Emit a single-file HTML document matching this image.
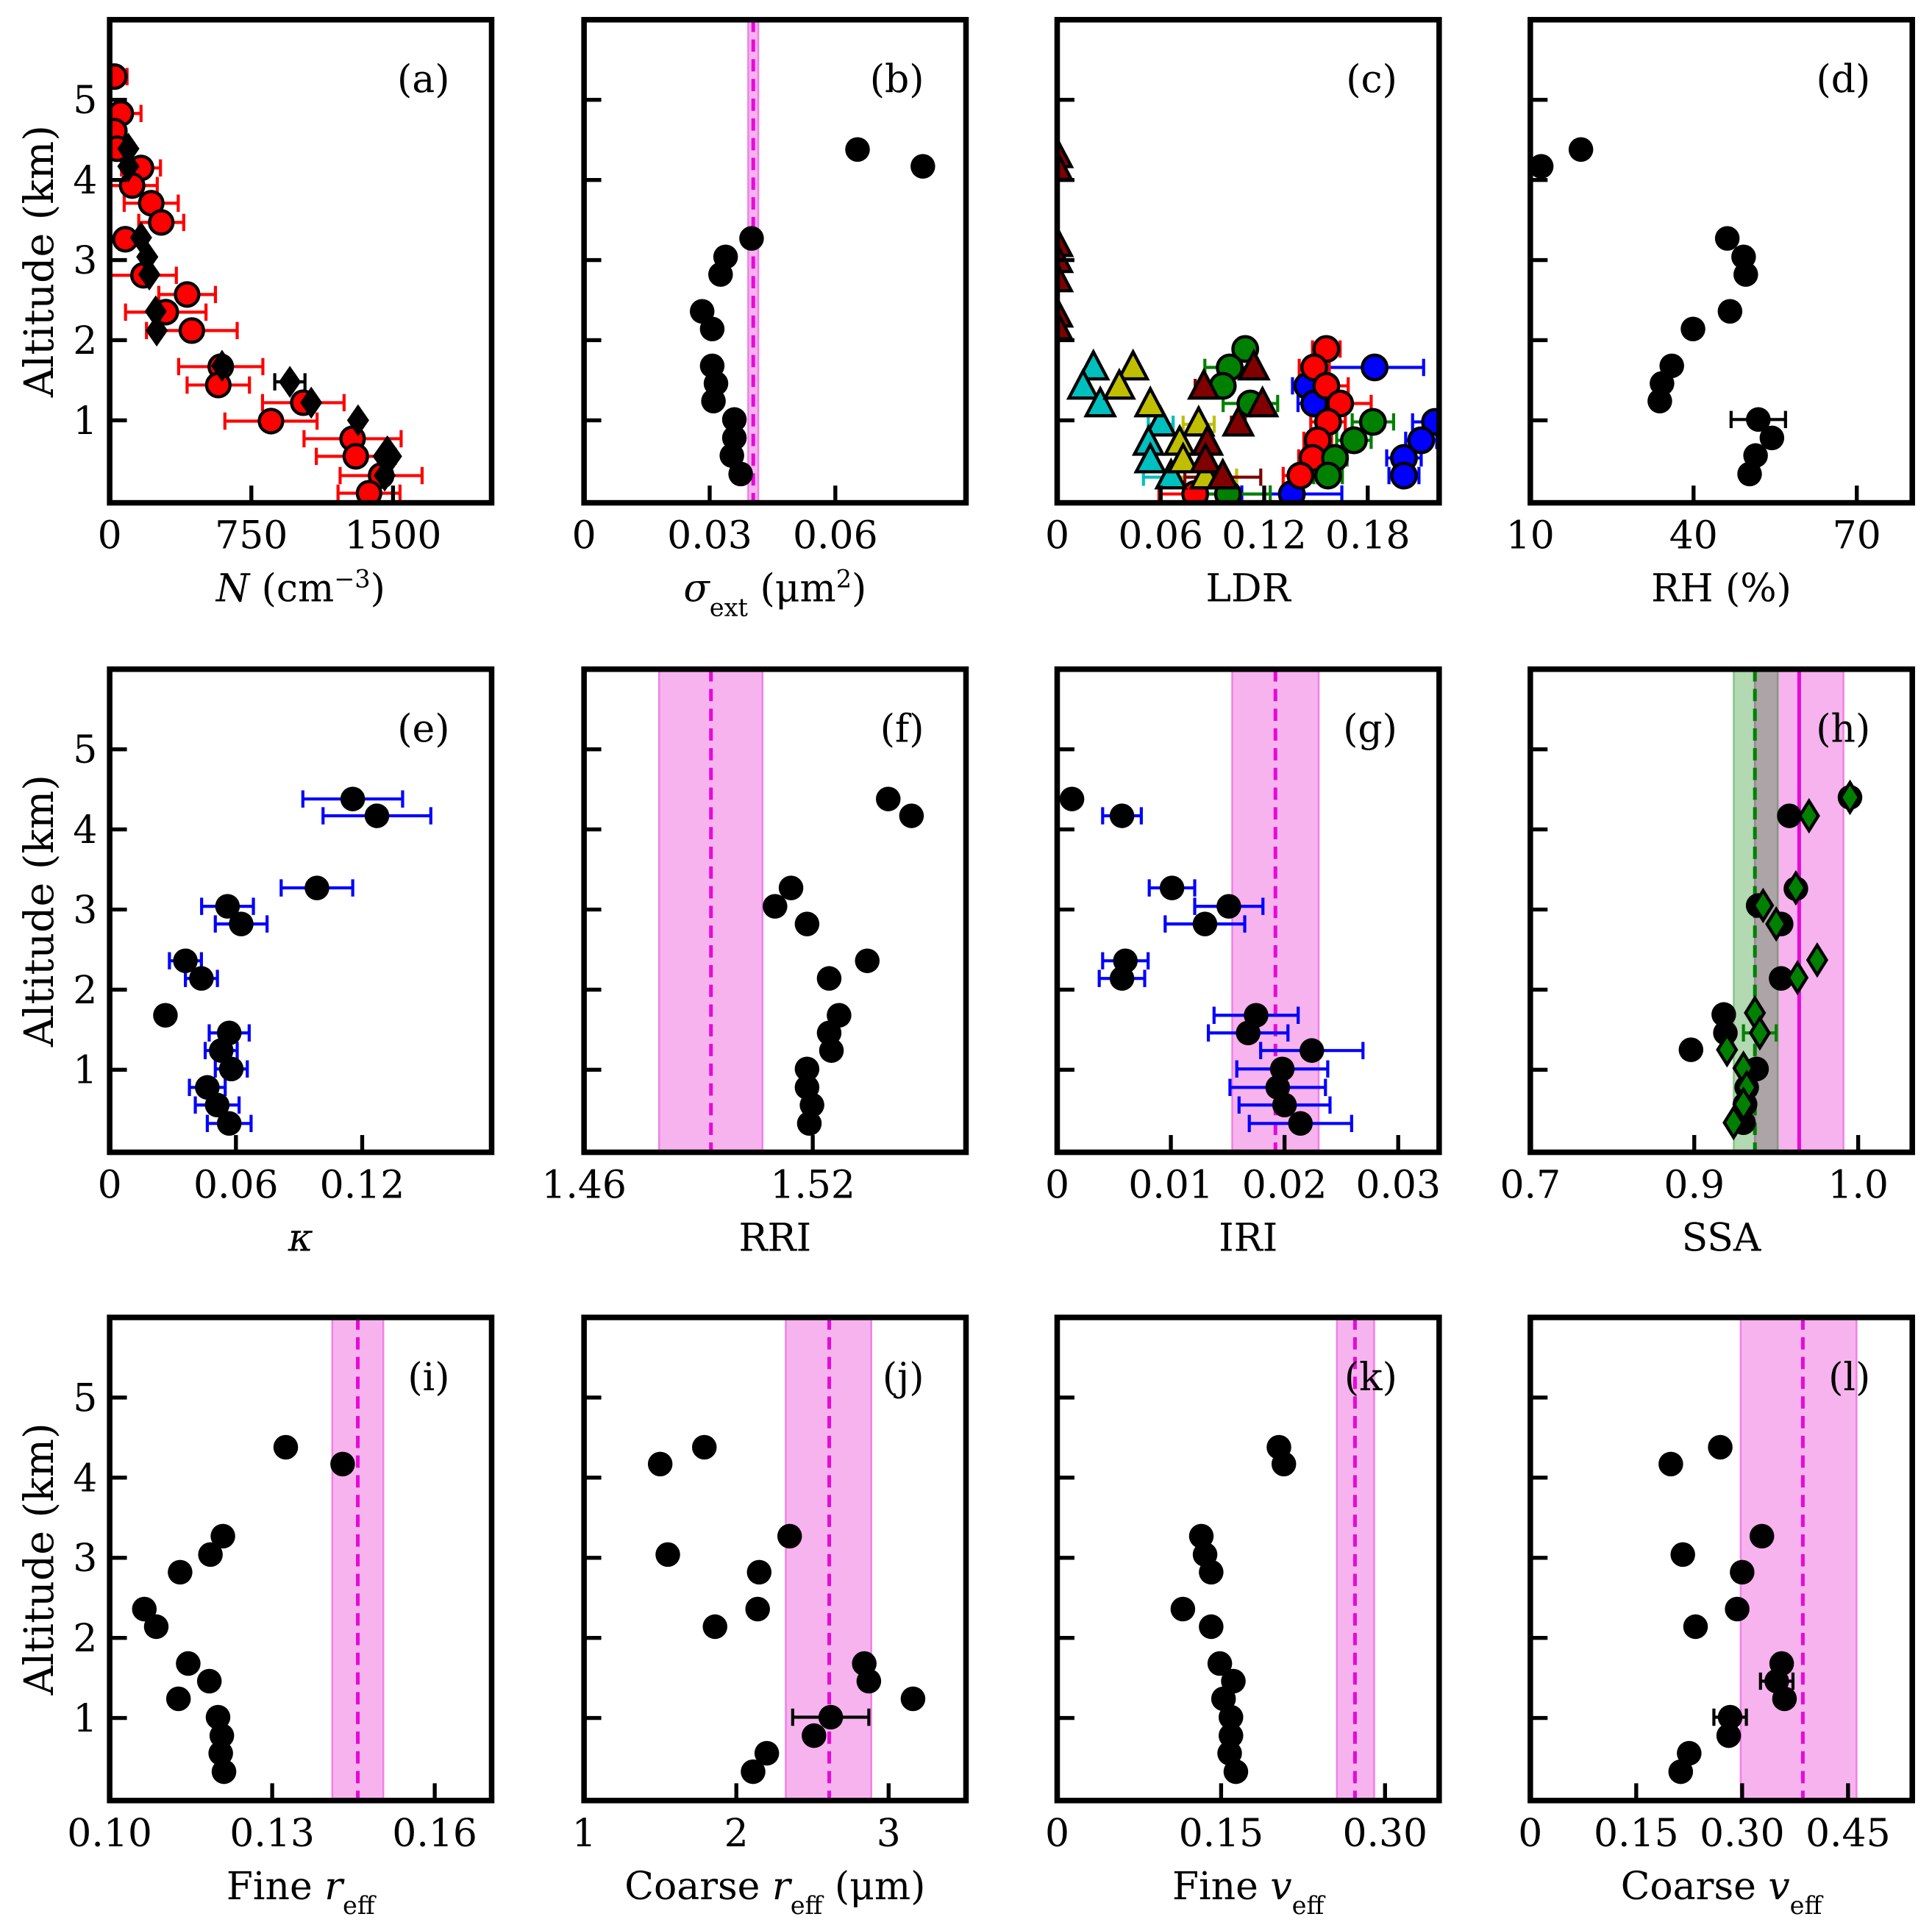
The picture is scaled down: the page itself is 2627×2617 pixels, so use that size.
<!DOCTYPE html>
<html><head><meta charset="utf-8"><style>
html,body{margin:0;padding:0;background:#fff;}
svg{display:block;}
text{font-family:"DejaVu Serif","Liberation Serif",serif;fill:#000;}
</style></head><body>
<svg id="fig" xmlns="http://www.w3.org/2000/svg" width="2627" height="2617" viewBox="0 0 1568 1562" preserveAspectRatio="none"></svg>
<script>
// ---------- data ----------
const ALT=[4.38,4.17,3.27,3.04,2.82,2.36,2.14,1.68,1.46,1.24,1.01,0.78,0.56,0.33];
// (a)
const A_RED_ALT=[5.29,4.83,4.61,4.39,4.15,3.93,3.71,3.47,3.26,2.81,2.57,2.35,2.12,1.67,1.44,0.99,1.22,0.77,0.55,0.31,0.09];
const A_RED_N=[25,59,25,39,166,119,220,273,83,179,410,297,435,588,575,854,1025,1286,1303,1437,1373];
const A_RED_ERR=[67,107,40,40,103,133,143,119,40,174,150,213,240,223,165,244,216,257,209,217,164];
const A_DIA_ALT=[4.39,4.17,3.28,3.04,2.82,2.36,2.12,1.68,1.48,1.22,1.0,0.55,0.31];
const A_DIA_N=[99,99,166,199,210,244,249,595,954,1067,1315,1470,1456];
const A_DIA_ERR=[0,0,0,0,0,0,0,0,80,0,0,0,0];
// (b)
const B_SIG=[0.0653,0.0809,0.0400,0.0338,0.0326,0.0282,0.0306,0.0306,0.0315,0.0309,0.0359,0.0359,0.0353,0.0374];
const B_REF=[0.0404,0.0392,0.0416];
// (c)
const C_ALT=[1.89,1.66,1.43,1.21,0.98,0.75,0.53,0.31,0.08];
const C_RED=[0.156,0.149,0.156,0.164,0.157,0.151,0.148,0.141,0.080];
const C_RED_ERR=[0.008,0.0087,0.0127,0.018,0.01,0.008,0.008,0.010,0.021];
const C_BLUE_ALT=[1.66,1.43,1.21,0.98,0.75,0.53,0.31,0.08];
const C_BLUE_V=[0.184,0.145,0.149,0.219,0.211,0.201,0.201,0.136];
const C_BLUE_ERR=[0.0284,0.0086,0.0094,0.013,0.009,0.01,0.0087,0.029];
const C_GREEN=[0.109,0.100,0.096,0.112,0.183,0.172,0.161,0.157,0.099];
const C_GREEN_ERR=[0,0.0144,0,0.0158,0.012,0.01,0.007,0.0083,0.0245];
const T_ALT=[1.65,1.41,1.19,0.95,0.71,0.49,0.29];
const C_CYAN=[0.021,0.015,0.025,0.060,0.053,0.054,0.066];
const C_CYAN_ERR=[0,0,0,0.0072,0,0,0.016];
const C_YEL=[0.044,0.036,0.054,0.082,0.071,0.073,0.086];
const C_YEL_ERR=[0,0,0,0.009,0,0,0.018];
const C_MAR=[0.114,0.085,0.119,0.105,0.087,0.086,0.096];
const C_MAR_ERR=[0,0.005,0,0.004,0,0,0.022];
const C_MAR0_ALT=[4.30,4.14,3.19,2.99,2.75,2.31,2.15];
// (d)
const D_RH=[19.3,12.0,46.2,49.2,49.6,46.7,39.9,36.0,34.2,33.8,51.9,54.4,51.4,50.3];
const D_ERR=[0,0,0,0,0,0,0,0,0,0,5,0,0,0];
// (e)
const E_K=[0.1155,0.127,0.0985,0.056,0.0625,0.036,0.0436,0.0265,0.0568,0.053,0.0578,0.0464,0.0511,0.0568];
const E_ERR=[0.0237,0.0256,0.017,0.0123,0.0123,0.0076,0.0076,0,0.0095,0.0076,0.0076,0.0085,0.0104,0.0104];
// (f)
const F_RRI=[1.5398,1.5459,1.5143,1.5101,1.5185,1.5343,1.5243,1.5269,1.5243,1.5249,1.5185,1.5185,1.5198,1.5191];
const F_REF=[1.4933,1.4797,1.5068];
// (g)
const G_IRI=[0.0013,0.0057,0.0101,0.0151,0.0130,0.0060,0.0057,0.0175,0.0168,0.0224,0.0198,0.0194,0.0200,0.0214];
const G_ERR=[0,0.0017,0.002,0.003,0.0035,0.002,0.002,0.0037,0.0035,0.0045,0.004,0.0042,0.004,0.0045];
const G_REF=[0.0192,0.0154,0.0230];
// (h)
const H_ALT_C=[4.40,4.17,3.26,3.05,2.82,2.14,1.69,1.46,1.25,1.01,0.78,0.57,0.34];
const H_SSA_C=[0.995,0.958,0.962,0.939,0.953,0.953,0.918,0.919,0.898,0.938,0.932,0.931,0.930];
const H_SSA_D=[0.995,0.970,0.962,0.942,0.950,0.975,0.963,0.937,0.940,0.920,0.930,0.932,0.930,0.924];
const H_ALT_D=[4.40,4.17,3.27,3.05,2.82,2.37,2.15,1.71,1.46,1.25,1.02,0.78,0.57,0.34];
const H_ERR_D=[0,0,0,0,0,0,0,0,0.01,0,0,0,0,0];
const H_REF_G=[0.937,0.924,0.951];
const H_REF_P=[0.964,0.937,0.991];
// (i)-(l)
const I_R=[0.1325,0.1430,0.1209,0.1186,0.1130,0.1064,0.1086,0.1145,0.1184,0.1127,0.1200,0.1207,0.1205,0.1211];
const I_REF=[0.1458,0.1411,0.1505];
const J_R=[1.79,1.50,2.35,1.55,2.15,2.14,1.86,2.84,2.87,3.16,2.62,2.51,2.20,2.11];
const J_ERR=[0,0,0,0,0,0,0,0,0,0,0.25,0,0,0];
const J_REF=[2.61,2.325,2.886];
const K_V=[0.2029,0.2074,0.1319,0.1353,0.1409,0.1150,0.1409,0.1488,0.1612,0.1522,0.1590,0.1590,0.1578,0.1635];
const K_REF=[0.2725,0.256,0.290];
const L_V=[0.269,0.199,0.328,0.216,0.300,0.293,0.234,0.356,0.349,0.360,0.283,0.281,0.225,0.213];
const L_ERR=[0,0,0,0,0,0,0,0,0.023,0,0.023,0,0,0];
const L_REF=[0.386,0.298,0.462];
// ticks
const Y_TICKS=[1,2,3,4,5];
const TICKS={
 a:{vals:[0,750,1500],text:["0","750","1500"]},
 b:{vals:[0,0.03,0.06],text:["0","0.03","0.06"]},
 c:{vals:[0,0.06,0.12,0.18],text:["0","0.06","0.12","0.18"]},
 d:{vals:[10,40,70],text:["10","40","70"]},
 e:{vals:[0,0.06,0.12],text:["0","0.06","0.12"]},
 f:{vals:[1.46,1.52],text:["1.46","1.52"]},
 g:{vals:[0,0.01,0.02,0.03],text:["0","0.01","0.02","0.03"]},
 h:{vals:[0.8,0.9,1.0],text:["0.7","0.9","1.0"]},
 i:{vals:[0.10,0.13,0.16],text:["0.10","0.13","0.16"]},
 j:{vals:[1,2,3],text:["1","2","3"]},
 k:{vals:[0,0.15,0.30],text:["0","0.15","0.30"]},
 l:{vals:[0,0.15,0.30,0.45],text:["0","0.15","0.30","0.45"]}
};
// ---------- drawing ----------
const NS="http://www.w3.org/2000/svg";
const svg=document.getElementById('fig');
function el(tag,attrs,parent){const e=document.createElementNS(NS,tag);for(const k in attrs)e.setAttribute(k,attrs[k]);(parent||svg).appendChild(e);return e;}
const COLX=[89,474,858,1242], ROWY=[16,543,1069], PW=310, PH=392;
const YD=[-0.03,6.0];
function makePanel(id,col,row,xd){
 const L=COLX[col],T=ROWY[row];
 const p={L,T,id};
 p.sx=v=>L+(v-xd[0])/(xd[1]-xd[0])*PW;
 p.sy=v=>T+PH-(v-YD[0])/(YD[1]-YD[0])*PH;
 const cp=el('clipPath',{id:'clip-'+id});
 el('rect',{x:L,y:T,width:PW,height:PH},cp);
 p.g=el('g',{'clip-path':'url(#clip-'+id+')'});
 
 
 return p;
}
function finishPanel(p,letter,xlabelHTML,showY){
 const {L,T}=p, B=T+PH;
 const fr=el('g',{});
 
 
 Y_TICKS.forEach(v=>{
  const y=p.sy(v);
  const t=el('line',{x1:L,x2:L+14,y1:y,y2:y,stroke:'#000','stroke-width':3.2},fr);
  
  
  if(showY){const tx=el('text',{x:79,y:y+11,'font-size':31,'text-anchor':'end'},fr);tx.textContent=v;
   
   }
 });
 const tk=TICKS[letter];
 tk.vals.forEach((v,i)=>{
  const x=p.sx(v);
  if(Math.abs(x-L)>3){const t=el('line',{x1:x,x2:x,y1:B,y2:B-14,stroke:'#000','stroke-width':3.2},fr);
   
   }
  const tx=el('text',{x:x,y:B+37,'font-size':31,'text-anchor':'middle'},fr);tx.textContent=tk.text[i];
  
  
 });
 const r=el('rect',{x:L,y:T,width:PW,height:PH,fill:'none',stroke:'#000','stroke-width':4.5},fr);
 
 
 const lt=el('text',{x:L+276,y:T+59,'font-size':31,'text-anchor':'end'},fr);lt.textContent='('+letter+')';
 
 
 const xl=el('text',{x:L+PW/2,y:B+80,'font-size':31,'text-anchor':'middle'},fr);xl.innerHTML=xlabelHTML;
 
 
 if(showY){const yl=el('text',{x:0,y:0,'font-size':33,'text-anchor':'middle',transform:'translate(43,'+(T+PH/2)+') rotate(-90)'},fr);yl.textContent='Altitude (km)';
  
  }
}
function band(p,ref,color,edge){
 const x1=p.sx(ref[1]),x2=p.sx(ref[2]);
 const r=el('rect',{x:x1,y:p.T,width:x2-x1,height:PH,fill:color,stroke:edge,'stroke-width':1.5},p.g);
 
 
}
function vline(p,v,color,dash){
 const x=p.sx(v);
 const l=el('line',{x1:x,x2:x,y1:p.T,y2:p.T+PH,stroke:color,'stroke-width':3,'stroke-dasharray':dash||'none'},p.g);
 
 
}
function errbar(p,v,a,e,color){
 if(!e)return;
 const y=p.sy(a),x1=p.sx(v-e),x2=p.sx(v+e);
 const g=el('g',{stroke:color,'stroke-width':2.5},p.g);
 
 
 el('line',{x1:x1,x2:x2,y1:y,y2:y},g);
 el('line',{x1:x1,x2:x1,y1:y-7,y2:y+7},g);
 el('line',{x1:x2,x2:x2,y1:y-7,y2:y+7},g);
}
function circ(p,v,a,fill,r,name){
 const c=el('circle',{cx:p.sx(v),cy:p.sy(a),r:r||10,fill:fill,stroke:'#000','stroke-width':fill==='#000'?0:2.6},p.g);
 
 
}
function tri(p,v,a,fill,name){
 const x=p.sx(v),y=p.sy(a),s=11.5;
 const t=el('polygon',{points:`${x},${y-s*1.15} ${x-s},${y+s*0.75} ${x+s},${y+s*0.75}`,fill:fill,stroke:'#000','stroke-width':2.6,'stroke-linejoin':'miter'},p.g);
 
 
}
function dia(p,v,a,fill,w,h,name){
 const x=p.sx(v),y=p.sy(a);
 const d=el('polygon',{points:`${x},${y-h} ${x+w},${y} ${x},${y+h} ${x-w},${y}`,fill:fill,stroke:'#000','stroke-width':fill==='#000'?0:2.6},p.g);
 
 
}
function simple(p,vals,errs,errColor){
 vals.forEach((v,i)=>{if(errs)errbar(p,v,ALT[i],errs[i],errColor);});
 vals.forEach((v,i)=>circ(p,v,ALT[i],'#000',10,'data-point'));
}
// (a)
let p=makePanel('a',0,0,[0,2022]);
A_RED_N.forEach((v,i)=>errbar(p,v,A_RED_ALT[i],A_RED_ERR[i],'#ff0000'));
A_DIA_N.forEach((v,i)=>errbar(p,v,A_DIA_ALT[i],A_DIA_ERR[i],'#000'));
A_RED_N.forEach((v,i)=>circ(p,v,A_RED_ALT[i],'#ff0000',9.5,'red-circle'));
A_DIA_N.forEach((v,i)=>dia(p,v,A_DIA_ALT[i],'#000',i===11?12:9,i===11?17:13,'black-diamond'));
finishPanel(p,'a','<tspan font-style="italic">N</tspan> (cm<tspan baseline-shift="super" font-size="20">−3</tspan>)',true);
// (b)
p=makePanel('b',1,0,[0,0.0912]);
band(p,B_REF,'#f7b3ee','#f080e8');vline(p,B_REF[0],'#e60ad6','10,6');
simple(p,B_SIG);
finishPanel(p,'b','<tspan font-style="italic">σ</tspan><tspan baseline-shift="sub" font-size="20">ext</tspan> (μm<tspan baseline-shift="super" font-size="20">2</tspan>)',false);
// (c)
p=makePanel('c',2,0,[0,0.2214]);
C_BLUE_V.forEach((v,i)=>errbar(p,v,C_BLUE_ALT[i],C_BLUE_ERR[i],'#0000ff'));
C_RED.forEach((v,i)=>errbar(p,v,C_ALT[i],C_RED_ERR[i],'#ff0000'));
C_GREEN.forEach((v,i)=>errbar(p,v,C_ALT[i],C_GREEN_ERR[i],'#008000'));
C_CYAN.forEach((v,i)=>errbar(p,v,T_ALT[i],C_CYAN_ERR[i],'#00bfbf'));
C_YEL.forEach((v,i)=>errbar(p,v,T_ALT[i],C_YEL_ERR[i],'#bfbf00'));
C_MAR.forEach((v,i)=>errbar(p,v,T_ALT[i],C_MAR_ERR[i],'#800000'));
C_BLUE_V.forEach((v,i)=>circ(p,v,C_BLUE_ALT[i],'#0000ff',10,'blue-circle'));
C_RED.forEach((v,i)=>circ(p,v,C_ALT[i],'#ff0000',10,'red-circle'));
C_GREEN.forEach((v,i)=>circ(p,v,C_ALT[i],'#008000',10,'green-circle'));
C_CYAN.forEach((v,i)=>tri(p,v,T_ALT[i],'#00bfbf','cyan-triangle'));
C_YEL.forEach((v,i)=>tri(p,v,T_ALT[i],'#bfbf00','yellow-triangle'));
C_MAR.forEach((v,i)=>tri(p,v,T_ALT[i],'#800000','maroon-triangle'));
C_MAR0_ALT.forEach(a=>tri(p,0,a,'#800000','maroon-triangle'));
finishPanel(p,'c','LDR',false);
// (d)
p=makePanel('d',3,0,[10,80.2]);
D_RH.forEach((v,i)=>errbar(p,v,ALT[i],D_ERR[i],'#000'));
D_RH.forEach((v,i)=>circ(p,v,ALT[i],'#000',10));
finishPanel(p,'d','RH (%)',false);
// (e)
p=makePanel('e',0,1,[0,0.1815]);
simple(p,E_K,E_ERR,'#0000ff');
finishPanel(p,'e','<tspan font-style="italic">κ</tspan>',true);
// (f)
p=makePanel('f',1,1,[1.46,1.5602]);
band(p,F_REF,'#f7b3ee','#f080e8');vline(p,F_REF[0],'#e60ad6','10,6');
simple(p,F_RRI);
finishPanel(p,'f','RRI',false);
// (g)
p=makePanel('g',2,1,[0,0.0336]);
band(p,G_REF,'#f7b3ee','#f080e8');vline(p,G_REF[0],'#e60ad6','10,6');
simple(p,G_IRI,G_ERR,'#0000ff');
finishPanel(p,'g','IRI',false);
// (h)
p=makePanel('h',3,1,[0.8,1.033]);
band(p,H_REF_P,'#f7b3ee','#f080e8');
band(p,H_REF_G,'rgba(0,128,0,0.3)','rgba(0,128,0,0.35)');
vline(p,H_REF_P[0],'#e60ad6');vline(p,H_REF_G[0],'#008000','10,6');
H_SSA_D.forEach((v,i)=>errbar(p,v,H_ALT_D[i],H_ERR_D[i],'#008000'));
H_SSA_C.forEach((v,i)=>circ(p,v,H_ALT_C[i],'#000',10));
H_SSA_D.forEach((v,i)=>dia(p,v,H_ALT_D[i],'#008000',7.5,12,'green-diamond'));
finishPanel(p,'h','SSA',false);
// (i)
p=makePanel('i',0,2,[0.10,0.1705]);
band(p,I_REF,'#f7b3ee','#f080e8');vline(p,I_REF[0],'#e60ad6','10,6');
simple(p,I_R);
finishPanel(p,'i','Fine <tspan font-style="italic">r</tspan><tspan baseline-shift="sub" font-size="20">eff</tspan>',true);
// (j)
p=makePanel('j',1,2,[1,3.508]);
band(p,J_REF,'#f7b3ee','#f080e8');vline(p,J_REF[0],'#e60ad6','10,6');
simple(p,J_R,J_ERR,'#000');
finishPanel(p,'j','Coarse <tspan font-style="italic">r</tspan><tspan baseline-shift="sub" font-size="20">eff</tspan> (μm)',false);
// (k)
p=makePanel('k',2,2,[0,0.3495]);
band(p,K_REF,'#f7b3ee','#f080e8');vline(p,K_REF[0],'#e60ad6','10,6');
simple(p,K_V);
finishPanel(p,'k','Fine <tspan font-style="italic">v</tspan><tspan baseline-shift="sub" font-size="20">eff</tspan>',false);
// (l)
p=makePanel('l',3,2,[0,0.541]);
band(p,L_REF,'#f7b3ee','#f080e8');vline(p,L_REF[0],'#e60ad6','10,6');
simple(p,L_V,L_ERR,'#000');
finishPanel(p,'l','Coarse <tspan font-style="italic">v</tspan><tspan baseline-shift="sub" font-size="20">eff</tspan>',false);
</script>
</body></html>
